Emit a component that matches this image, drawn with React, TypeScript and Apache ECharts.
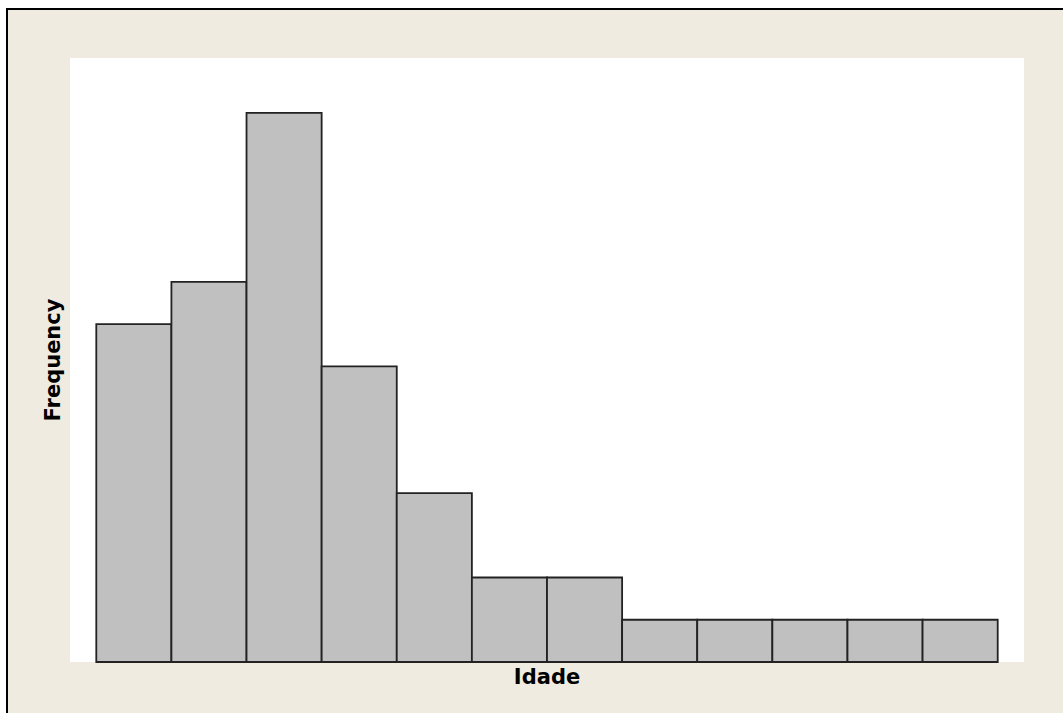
import React, { useEffect, useRef } from "react";
import * as echarts from "echarts";

const binIndex = [0, 1, 2, 3, 4, 5, 6, 7, 8, 9, 10, 11];
const frequency = [8, 9, 13, 7, 4, 2, 2, 1, 1, 1, 1, 1];
const xAxisTitle = "Idade";
const yAxisTitle = "Frequency";

export default function App() {
  const ref = useRef<HTMLDivElement>(null);
  useEffect(() => {
    if (!ref.current) return;
    const chart = echarts.init(ref.current, null, { renderer: "svg" });
    const data = binIndex.map((b, i) => [b, b + 1, frequency[i]]);
    chart.setOption({
      animation: false,
      backgroundColor: "transparent",
      grid: {
        left: 70,
        right: 39,
        top: 58,
        bottom: 51,
        show: true,
        backgroundColor: "#ffffff",
        borderWidth: 0,
      },
      xAxis: {
        type: "value",
        min: -0.35,
        max: 12.35,
        axisLine: { show: false },
        axisTick: { show: false },
        axisLabel: { show: false },
        splitLine: { show: false },
        name: xAxisTitle,
        nameLocation: "middle",
        nameGap: 4,
        nameTextStyle: {
          fontFamily: "DejaVu Sans",
          fontWeight: "bold",
          fontSize: 21,
          color: "#000",
          verticalAlign: "top",
        },
      },
      yAxis: {
        type: "value",
        min: 0,
        max: 14.3,
        axisLine: { show: false },
        axisTick: { show: false },
        axisLabel: { show: false },
        splitLine: { show: false },
        name: yAxisTitle,
        nameLocation: "middle",
        nameGap: 7,
        nameTextStyle: {
          fontFamily: "DejaVu Sans",
          fontWeight: "bold",
          fontSize: 21,
          color: "#000",
        },
      },
      series: [
        {
          type: "custom",
          data,
          encode: { x: [0, 1], y: 2 },
          renderItem: (params: any, api: any) => {
            const start = api.coord([api.value(0), api.value(2)]);
            const end = api.coord([api.value(1), 0]);
            return {
              type: "rect",
              shape: {
                x: start[0],
                y: start[1],
                width: end[0] - start[0],
                height: end[1] - start[1],
              },
              style: {
                fill: "#c0c0c0",
                stroke: "#222222",
                lineWidth: 1.8,
              },
            };
          },
        },
      ],
    });
    return () => chart.dispose();
  }, []);
  return (
    <div style={{ position: "fixed", left: 0, top: 0, width: 1063, height: 713, background: "#ffffff" }}>
      <div
        style={{
          position: "absolute",
          left: 6,
          top: 8,
          right: 0,
          bottom: 0,
          background: "#efebe0",
          borderTop: "2px solid #000",
          borderLeft: "2px solid #000",
          boxSizing: "border-box",
        }}
      />
      <div ref={ref} style={{ position: "absolute", left: 0, top: 0, width: 1063, height: 713 }} />
    </div>
  );
}
